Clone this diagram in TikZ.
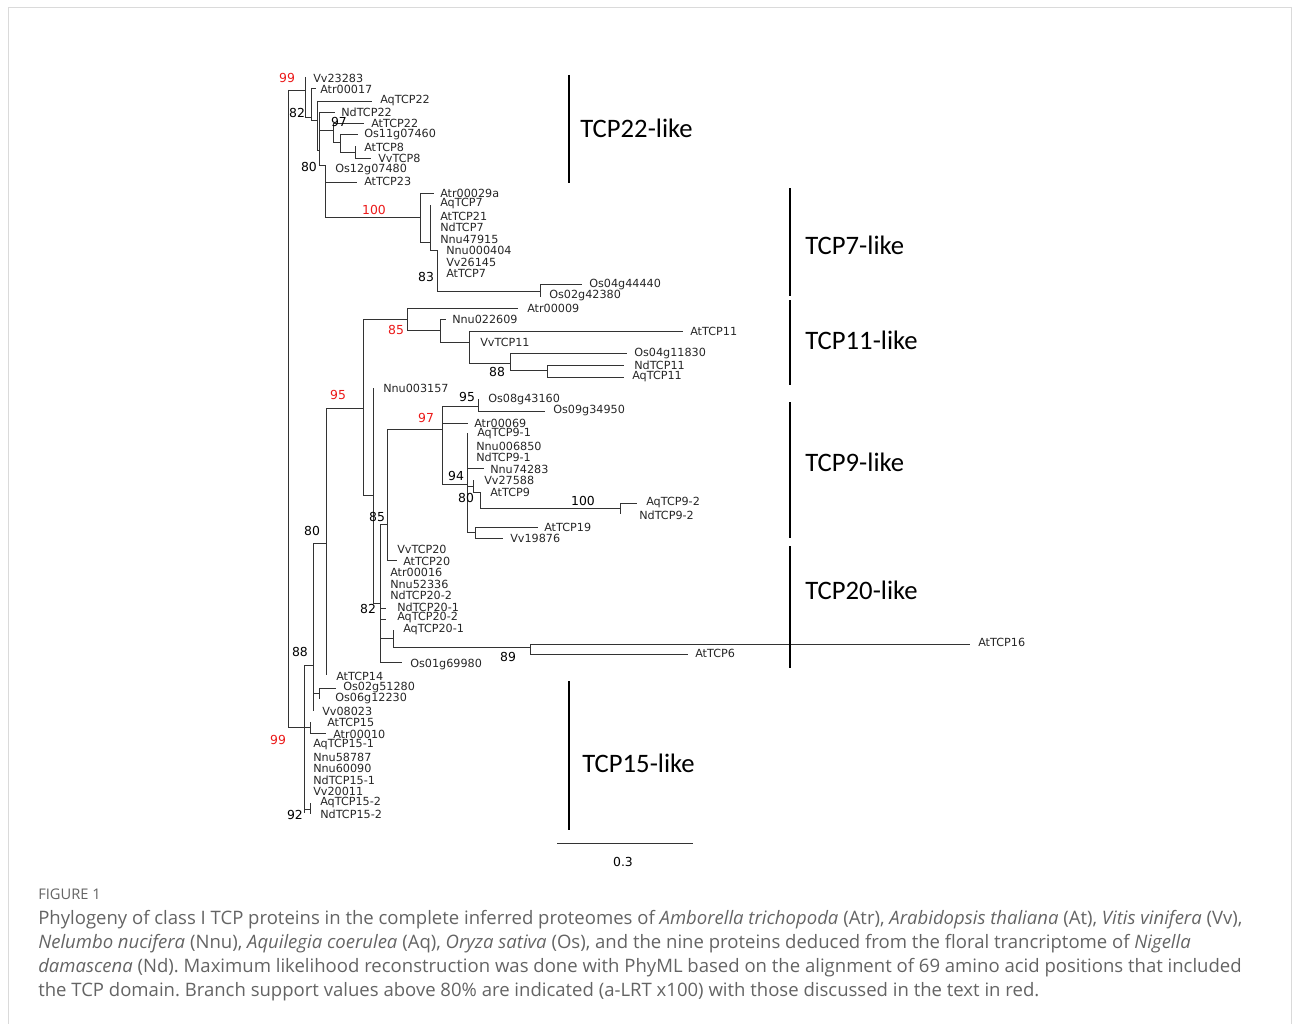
\documentclass[tikz,border=0pt]{standalone}
\usepackage{fontspec}
\setmainfont{DejaVu Sans}
\newfontfamily\cladefont{Carlito}
\newfontfamily\capfont{Open Sans}
\usetikzlibrary{positioning}
\definecolor{suppred}{RGB}{235,25,25}
\definecolor{capgray}{RGB}{100,100,100}
\definecolor{framegray}{RGB}{218,218,218}
\frenchspacing

\begin{document}
\begin{tikzpicture}[x=0.75pt, y=-0.75pt,
    branch/.style={line width=0.6pt, black!80},
    cladebar/.style={line width=1.5pt, black},
    leaf/.style={anchor=west, inner sep=0pt, font=\fontsize{8.4}{9}\selectfont, text=black!85},
    supp/.style={inner sep=0pt, font=\fontsize{9.3}{10}\selectfont},
    suppr/.style={supp, text=suppred},
    cladelbl/.style={anchor=west, inner sep=0pt, font=\cladefont\fontsize{20}{24}\selectfont},
    capline/.style={anchor=base west, inner sep=0pt, font=\capfont\fontsize{13.9}{17}\selectfont, text=capgray},
]
\useasboundingbox (0,0) rectangle (1293,1024);
\draw[framegray, line width=0.75pt] (8,1024) -- (8,8) -- (1291,8) -- (1291,1024);

% leaves
\foreach \nm/\x/\y in {Vv23283/313/78, Atr00017/320/89, AqTCP22/380/101, NdTCP22/341/112,
    AtTCP22/371/123, Os11g07460/364/135, AtTCP8/364/147, VvTCP8/378/158, Os12g07480/335/170,
    AtTCP23/364/181, Atr00029a/440/193, AqTCP7/440/204, AtTCP21/440/216, NdTCP7/440/227,
    Nnu47915/440/239, Nnu000404/446/250, Vv26145/446/262, AtTCP7/446/273, Os04g44440/589/285,
    Os02g42380/549/296, Atr00009/527/308, Nnu022609/452/319, AtTCP11/690/331, VvTCP11/480/342,
    Os04g11830/634/354, NdTCP11/634/365, AqTCP11/632/377, Nnu003157/383/388, Os08g43160/488/400,
    Os09g34950/553/411, Atr00069/474/423, AqTCP9-1/477/434, Nnu006850/476/446, NdTCP9-1/476/457,
    Nnu74283/490/469, Vv27588/484/480, AtTCP9/490/492, AqTCP9-2/646/503, NdTCP9-2/639/515,
    AtTCP19/544/527, Vv19876/510/538, VvTCP20/397/549, AtTCP20/403/561, Atr00016/390/572,
    Nnu52336/390/584, NdTCP20-2/390/595, NdTCP20-1/397/607, AqTCP20-2/397/618, AqTCP20-1/403/630,
    AtTCP16/978/642, AtTCP6/695/653, Os01g69980/410/665, AtTCP14/336/676, Os02g51280/343/688,
    Os06g12230/335/699, Vv08023/322/711, AtTCP15/327/722, Atr00010/333/734, AqTCP15-1/313/745,
    Nnu58787/313/757, Nnu60090/313/768, NdTCP15-1/313/780, Vv20011/313/791, AqTCP15-2/320/803,
    NdTCP15-2/320/814}
  \node[leaf] (\nm) at (\x,\y) {\nm};

% vertical parts of the tree
\foreach \x/\ya/\yb in {288/90/727, 305/77/117, 311/88/120, 317/101/150, 319/112/165,
    333/123/142, 340/134/152, 355/146/158, 325/165/217, 420/193/242, 430/205/250, 437/250/291,
    540/284/297, 363/319/495, 407/308/330, 440/319/342, 469/331/363, 510/353/370, 547/365/377,
    326/408/675, 373/388/603, 387/429/560, 442/406/484, 478/399/412, 467/433/532, 473/480/492,
    480/492/508, 620/503/514, 475/527/538, 380/524/662, 393/630/647, 530/644/654, 313/543/711,
    319/688/699, 304/665/813, 310/722/733, 310/803/814}
  \draw[branch] (\x,\ya) -- (\x,\yb);

% horizontal parts of the tree
\foreach \xa/\xb/\y in {288/305/90, 305/311/117, 311/316/88, 311/317/120, 317/372/101,
    317/319/150, 319/335/112, 319/333/130, 333/364/123, 333/340/142, 340/358/134, 340/355/152,
    355/371/158, 319/325/165, 325/357/182, 325/420/217, 420/434/193, 420/430/242, 430/437/250,
    437/540/291, 540/582/284, 363/407/319, 407/518/308, 407/440/330, 440/446/319, 440/469/342,
    469/683/331, 469/510/363, 510/627/353, 510/547/370, 547/624/365, 547/624/377, 326/363/408,
    363/373/495, 373/380/603, 380/387/524, 387/442/429, 442/478/406, 478/545/411, 442/468/423,
    442/467/484, 467/484/468, 467/473/486, 473/480/492, 480/620/508, 620/637/503, 467/475/532,
    475/538/527, 475/503/538, 387/397/560, 380/386/608, 380/386/619, 380/393/638, 393/530/647,
    530/970/644, 530/688/654, 380/402/662, 313/326/543, 304/313/665, 313/319/693, 319/336/688,
    288/304/727, 304/310/727, 310/326/733, 304/310/809}
  \draw[branch] (\xa,\y) -- (\xb,\y);

% support values
\foreach \nm/\x/\y/\v in {sA/287/78/99, sB/374/210/100, sC/396/330/85, sD/338/395/95,
    sE/426/418/97, sF/278/740/99}
  \node[suppr] (\nm) at (\x,\y) {\v};
\foreach \nm/\x/\y/\v in {sa/297/113/82, sb/339/122/97, sc/309/167/80, sd/426/277/83,
    se/497/372/88, sf/467/397/95, sg/456/476/94, sh/466/498/80, si/583/501/100, sj/377/517/85,
    sk/312/531/80, sl/368/609/82, sm/508/657/89, sn/300/652/88, so/295/815/92}
  \node[supp] (\nm) at (\x,\y) {\v};

% clade bars
\draw[cladebar] (569,75) -- (569,183);
\node[cladelbl] (tcp22) at (580,128) {TCP22-like};
\draw[cladebar] (790,188) -- (790,296);
\node[cladelbl] (tcp7) at (805,245) {TCP7-like};
\draw[cladebar] (790,300) -- (790,385);
\node[cladelbl] (tcp11) at (805,340) {TCP11-like};
\draw[cladebar] (790,402) -- (790,538);
\node[cladelbl] (tcp9) at (805,462) {TCP9-like};
\draw[cladebar] (790,546) -- (790,668);
\node[cladelbl] (tcp20) at (805,590) {TCP20-like};
\draw[cladebar] (569,681) -- (569,830);
\node[cladelbl] (tcp15) at (582,763) {TCP15-like};

% scale bar
\draw[branch] (557,843) -- (693,843);
\node[supp] (scale) at (623,862) {0.3};

% caption
\node[capline, font=\capfont\fontsize{11}{13}\selectfont] (figno) at (38,899) {FIGURE 1};
\node[capline] (cap1) at (38,924) {Phylogeny of class I TCP proteins in the complete inferred proteomes of \textit{Amborella trichopoda} (Atr), \textit{Arabidopsis thaliana} (At), \textit{Vitis vinifera} (Vv),};
\node[capline] (cap2) at (38,948) {\textit{Nelumbo nucifera} (Nnu), \textit{Aquilegia coerulea} (Aq), \textit{Oryza sativa} (Os), and the nine proteins deduced from the floral trancriptome of \textit{Nigella}};
\node[capline] (cap3) at (38,972) {\textit{damascena} (Nd). Maximum likelihood reconstruction was done with PhyML based on the alignment of 69 amino acid positions that included};
\node[capline] (cap4) at (38,996) {the TCP domain. Branch support values above 80\% are indicated (a-LRT x100) with those discussed in the text in red.};
\end{tikzpicture}
\end{document}
